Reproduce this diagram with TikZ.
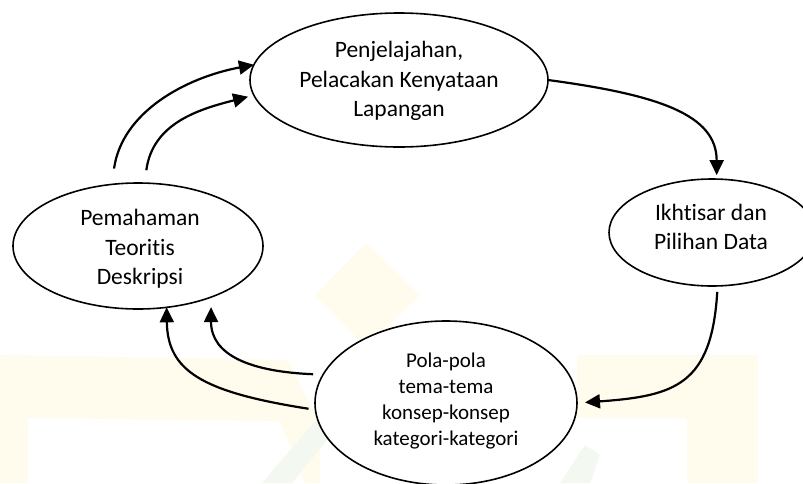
\documentclass[tikz,border=0pt]{standalone}
\usepackage{fontspec}
\setmainfont{Carlito}[Ligatures=NoCommon]
\usetikzlibrary{shapes.geometric,arrows.meta,calc}
\definecolor{wmyellow}{RGB}{255,252,238}
\definecolor{wmgreen}{RGB}{243,248,241}
\begin{document}
\begin{tikzpicture}[x=1pt,y=-1pt,
  oval/.style={draw=black,line width=1.6pt,fill=white,ellipse,inner sep=0pt,outer sep=0pt},
  lbl/.style={align=center,inner sep=0pt,font=\fontsize{23.5}{29.5}\selectfont},
  lblsmall/.style={align=center,inner sep=0pt,font=\fontsize{21}{26}\selectfont},
  flow/.style={line width=2.2pt,-{Triangle[length=15pt,width=14pt]}}]
\fill[white] (0,0) rectangle (803,483);
\useasboundingbox (0,0) rectangle (803,483);
% faint watermark
\fill[wmyellow,even odd rule] (0,355) -- (288,360) -- (320,425) -- (320,483) -- (0,483) -- cycle
  (28,418) -- (280,421) -- (305,483) -- (28,483) -- cycle;
\fill[wmyellow] (577,355) -- (758,355) -- (758,483) -- (687,483) -- (687,418) -- (577,418) -- cycle;
\fill[wmyellow] (366,243) -- (420,295) -- (366,347) -- (315,295) -- cycle;
\fill[wmgreen] (262,483) -- (318,418) -- (335,430) -- (292,483) -- cycle;
\fill[wmgreen] (560,483) -- (585,445) -- (600,455) -- (590,483) -- cycle;
% nodes
\node[oval,minimum width=298pt,minimum height=134pt] (T) at (399,80) {};
\node[oval,minimum width=250pt,minimum height=126pt] (L) at (138,246) {};
\node[oval,minimum width=206pt,minimum height=107pt] (R) at (712,232.5) {};
\node[oval,minimum width=262pt,minimum height=164pt] (B) at (446,403) {};
\node[lbl] (Ttext) at (399,81) {Penjelajahan,\\Pelacakan Kenyataan\\Lapangan};
\node[lbl] (Ltext) at (140,249) {Pemahaman\\Teoritis\\Deskripsi};
\node[lbl] (Rtext) at (711,227) {Ikhtisar dan\\Pilihan Data};
\node[lblsmall] (Btext) at (446,401) {Pola-pola\\tema-tema\\konsep-konsep\\kategori-kategori};
% connectors
\draw[flow,shorten >=4pt] (T.east) .. controls +(112,15) and +(0,-64) .. (R.85);
\draw[flow,shorten <=6pt,shorten >=8pt] (R.-84) .. controls +(-6,99) and +(98,-7) .. (B.east);
\draw[flow,shorten <=10pt,shorten >=10pt] (B.167) .. controls +(-73,-3) and +(0,58) .. (L.-35);
\draw[flow,shorten <=7pt] (B.183) .. controls +(-115,-18) and +(1,63) .. (L.-65);
\draw[flow,shorten <=16pt] (L.113) .. controls +(10,-72) and +(-69,13) .. (T.174);
\draw[flow,shorten <=13pt,shorten >=6pt] (L.84) .. controls +(8,-60) and +(-55,14) .. (T.186);
\end{tikzpicture}
\end{document}
